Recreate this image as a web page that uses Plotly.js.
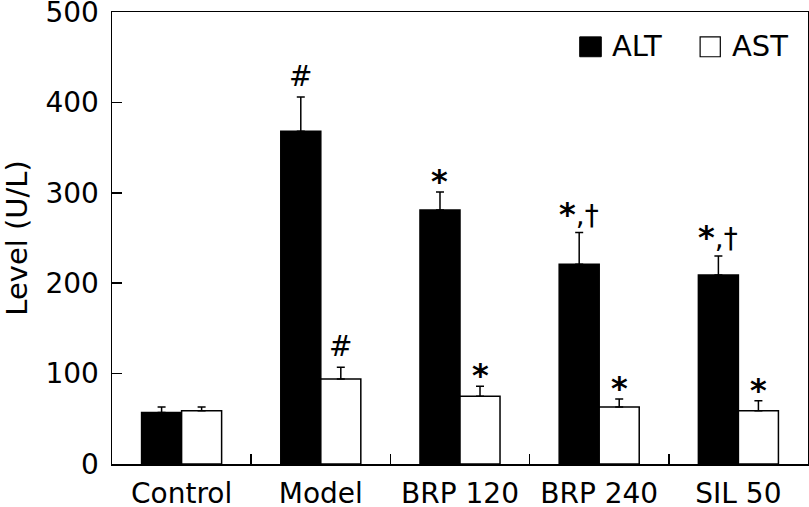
<!DOCTYPE html>
<html>
<head>
<meta charset="utf-8">
<script src="https://cdn.plot.ly/plotly-3.0.1.min.js"></script>
<style>html,body{margin:0;padding:0;background:#fff}#chart{width:809px;height:507px}</style>
</head>
<body>
<div id="chart"></div>
<script>
const categories = ["Control", "Model", "BRP 120", "BRP 240", "SIL 50"];
const altValues = [57, 368, 281, 221, 209];
const altErrors = [6, 38, 20, 35, 21];
const astValues = [59, 94, 75, 63, 59];
const astErrors = [4, 13, 11, 9, 11];
const altMarks = ["", "#", "*", "*,†", "*,†"];
const astMarks = ["", "#", "*", "*", "*"];
const yTicks = [0, 100, 200, 300, 400, 500];

const FONT = "DejaVu Sans, Verdana, sans-serif";
const BARGAP = 0.425;
const half = (1 - BARGAP) / 4; // offset of each bar centre from category centre

const traces = [
  {
    type: "bar", name: "ALT", x: categories, y: altValues,
    marker: {color: "#000", line: {color: "#000", width: 1.5}},
    error_y: {type: "data", array: altErrors, symmetric: false, arrayminus: altErrors.map(() => 0),
              color: "#000", thickness: 1.5, width: 4},
    showlegend: false, hoverinfo: "x+y"
  },
  {
    type: "bar", name: "AST", x: categories, y: astValues,
    marker: {color: "#fff", line: {color: "#000", width: 1.5}},
    error_y: {type: "data", array: astErrors, symmetric: false, arrayminus: astErrors.map(() => 0),
              color: "#000", thickness: 1.5, width: 4},
    showlegend: false, hoverinfo: "x+y"
  }
];

function styleMark(text) {
  // render asterisks heavier, like the reference
  return text.replace(/\*/g, "<b><span style='font-size:32px'>*</span></b>");
}

function markAnn(text, idx, top, side) {
  const isHash = text.indexOf("#") >= 0;
  return {
    x: idx + side * half, y: top, xref: "x", yref: "y",
    text: styleMark(text), showarrow: false, yanchor: "bottom", xanchor: "center",
    yshift: isHash ? 2 : (text.length > 1 ? -2 : -10),
    font: {family: FONT, size: 28, color: "#000"}
  };
}

const annotations = [];
categories.forEach((c, i) => {
  if (altMarks[i]) annotations.push(markAnn(altMarks[i], i, altValues[i] + altErrors[i], -1));
  if (astMarks[i]) annotations.push(markAnn(astMarks[i], i, astValues[i] + astErrors[i], 1));
});
// legend labels
annotations.push({x: 0.716, y: 0.925, xref: "paper", yref: "paper", text: "ALT", showarrow: false,
  xanchor: "left", yanchor: "middle", font: {family: FONT, size: 29, color: "#000"}});
annotations.push({x: 0.888, y: 0.925, xref: "paper", yref: "paper", text: "AST", showarrow: false,
  xanchor: "left", yanchor: "middle", font: {family: FONT, size: 29, color: "#000"}});

const shapes = [
  {type: "rect", xref: "paper", yref: "paper", x0: 0.672, x1: 0.703, y0: 0.901, y1: 0.945,
   fillcolor: "#000", line: {color: "#000", width: 1}},
  {type: "rect", xref: "paper", yref: "paper", x0: 0.845, x1: 0.874, y0: 0.901, y1: 0.945,
   fillcolor: "#fff", line: {color: "#000", width: 1.2}}
];

const layout = {
  width: 809, height: 507,
  margin: {l: 112, r: 1, t: 12, b: 43, pad: 0},
  paper_bgcolor: "#fff", plot_bgcolor: "#fff",
  barmode: "group", bargap: BARGAP, bargroupgap: 0,
  font: {family: FONT, size: 28, color: "#000"},
  xaxis: {
    type: "category", showline: true, linecolor: "#000", linewidth: 1.5, mirror: true,
    ticks: "inside", tickson: "boundaries", ticklen: 10, tickwidth: 1.5, tickcolor: "#000",
    showgrid: false, zeroline: false, ticklabelstandoff: 4,
    tickfont: {family: FONT, size: 28, color: "#000"}
  },
  yaxis: {
    range: [0, 500], tickvals: yTicks, ticktext: yTicks.map(String),
    showline: true, linecolor: "#000", linewidth: 1.5, mirror: true,
    ticks: "inside", ticklen: 10, tickwidth: 1.5, tickcolor: "#000",
    showgrid: false, zeroline: false, ticklabelstandoff: 6, ticklabeloverflow: "allow",
    tickfont: {family: FONT, size: 28, color: "#000"},
    title: {text: "Level (U/L)", font: {family: FONT, size: 29, color: "#000"}, standoff: 23}
  },
  annotations: annotations,
  shapes: shapes,
  showlegend: false
};

Plotly.newPlot("chart", traces, layout, {staticPlot: true, displayModeBar: false});
</script>
</body>
</html>
